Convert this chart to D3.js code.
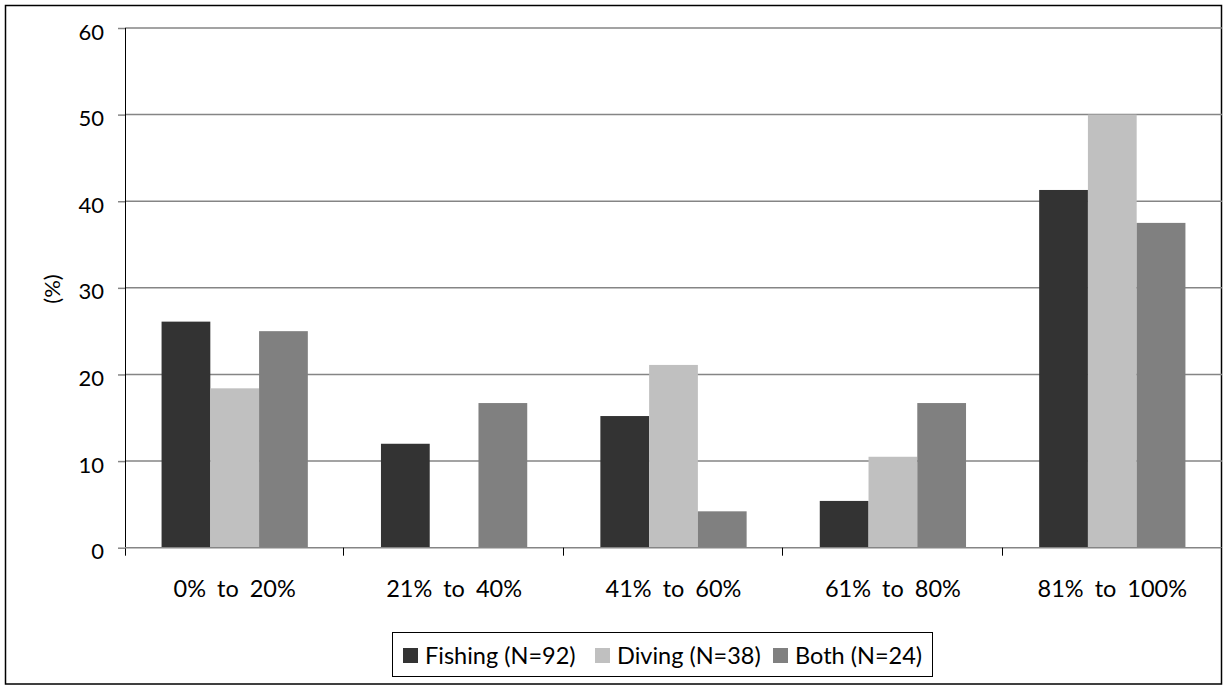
<!DOCTYPE html>
<html>
<head>
<meta charset="utf-8">
<script src="https://cdn.jsdelivr.net/npm/d3@7"></script>
<style>
  html, body { margin: 0; padding: 0; background: #fff; }
  svg { display: block; }
  text { font-family: Lato, "Open Sans", sans-serif; fill: #000; }
</style>
</head>
<body>
<svg id="chart" width="1224" height="686"></svg>
<script>
// Share of respondents in each band, by activity group (%)
const categories = ["0% to 20%", "21% to 40%", "41% to 60%", "61% to 80%", "81% to 100%"];
const seriesNames = ["Fishing (N=92)", "Diving (N=38)", "Both (N=24)"];
const fishing = [26.1, 12.0, 15.2, 5.4, 41.3];
const diving  = [18.4, 0.0, 21.1, 10.5, 50.0];
const both    = [25.0, 16.7, 4.2, 16.7, 37.5];
const yTicks = [0, 10, 20, 30, 40, 50, 60];
const colors = ["#333333", "#c0c0c0", "#808080"];

const seriesValues = [fishing, diving, both];

const svg = d3.select("#chart");
const plot = { left: 125, right: 1222, top: 28, bottom: 547.7 };

// Outer frame
svg.append("rect")
  .attr("x", 5.5).attr("y", 5.5)
  .attr("width", 1216).attr("height", 678.5)
  .attr("fill", "#fff").attr("stroke", "#000").attr("stroke-width", 1.5);

const x0 = d3.scaleBand()
  .domain(categories)
  .range([plot.left, plot.right])
  .paddingInner(0).paddingOuter(0);

// bars take 3 of 4.5 slots per category (gap width 150%)
const groupPad = x0.bandwidth() * 0.75 / 4.5;
const x1 = d3.scaleBand()
  .domain(seriesNames)
  .range([groupPad, x0.bandwidth() - groupPad])
  .padding(0);

const y = d3.scaleLinear().domain([0, 60]).range([plot.bottom, plot.top]);

// Horizontal gridlines
svg.append("g")
  .selectAll("line")
  .data(yTicks.filter(t => t > 0))
  .join("line")
  .attr("x1", plot.left).attr("x2", plot.right)
  .attr("y1", d => y(d)).attr("y2", d => y(d))
  .attr("stroke", "#858585").attr("stroke-width", 1.5);

// Bars
const groups = svg.append("g")
  .selectAll("g")
  .data(categories)
  .join("g")
  .attr("transform", d => `translate(${x0(d)},0)`);

groups.selectAll("rect")
  .data((c, i) => seriesNames.map((s, k) => ({ s, k, v: seriesValues[k][i] })))
  .join("rect")
  .attr("x", d => x1(d.s))
  .attr("width", x1.bandwidth())
  .attr("y", d => y(d.v))
  .attr("height", d => y(0) - y(d.v))
  .attr("fill", d => colors[d.k]);

// Y axis
const yAxis = d3.axisLeft(y).tickValues(yTicks).tickSize(7).tickPadding(14);
const gy = svg.append("g")
  .attr("transform", `translate(${plot.left},0)`)
  .call(yAxis);
gy.select(".domain").attr("stroke", "#000").attr("stroke-width", 1).attr("d", `M0.5,${plot.top}V${plot.bottom + 8}`);
gy.selectAll(".tick line").attr("stroke", "#858585").attr("stroke-width", 1.5);
gy.selectAll(".tick text")
  .attr("font-size", 22).attr("font-family", "Lato, sans-serif")
  .attr("fill", "#000").attr("dy", "0.5em");

// X axis baseline and category boundary ticks
svg.append("line")
  .attr("x1", plot.left).attr("x2", plot.right)
  .attr("y1", y(0)).attr("y2", y(0))
  .attr("stroke", "#858585").attr("stroke-width", 1.5);

const boundaries = categories.map(c => x0(c)).concat([x0(categories[categories.length - 1]) + x0.bandwidth()]);
svg.append("g")
  .selectAll("line")
  .data(boundaries.slice(1))
  .join("line")
  .attr("x1", d => Math.round(d) - 0.5).attr("x2", d => Math.round(d) - 0.5)
  .attr("y1", y(0)).attr("y2", y(0) + 8)
  .attr("stroke", "#000").attr("stroke-width", 1);

svg.append("g")
  .selectAll("text")
  .data(categories)
  .join("text")
  .attr("x", d => x0(d) + x0.bandwidth() / 2)
  .attr("y", 597)
  .attr("text-anchor", "middle")
  .attr("font-size", 23.5)
  .attr("word-spacing", 5)
  .text(d => d);

// Y axis title
svg.append("text")
  .attr("transform", "translate(60,289) rotate(-90)")
  .attr("text-anchor", "middle")
  .attr("font-size", 22)
  .text("(%)");

// Legend
const legend = svg.append("g");
legend.append("rect")
  .attr("x", 392.5).attr("y", 632.5)
  .attr("width", 540).attr("height", 44)
  .attr("fill", "#fff").attr("stroke", "#000").attr("stroke-width", 1);

const legendX = [403, 595, 773];
const items = legend.selectAll("g.item")
  .data(seriesNames)
  .join("g")
  .attr("class", "item")
  .attr("transform", (d, i) => `translate(${legendX[i]},0)`);
items.append("rect")
  .attr("x", 0).attr("y", 648).attr("width", 15).attr("height", 15)
  .attr("fill", (d, i) => colors[i]);
items.append("text")
  .attr("x", 22).attr("y", 664)
  .attr("font-size", 23.5)
  .text(d => d);
</script>
</body>
</html>
